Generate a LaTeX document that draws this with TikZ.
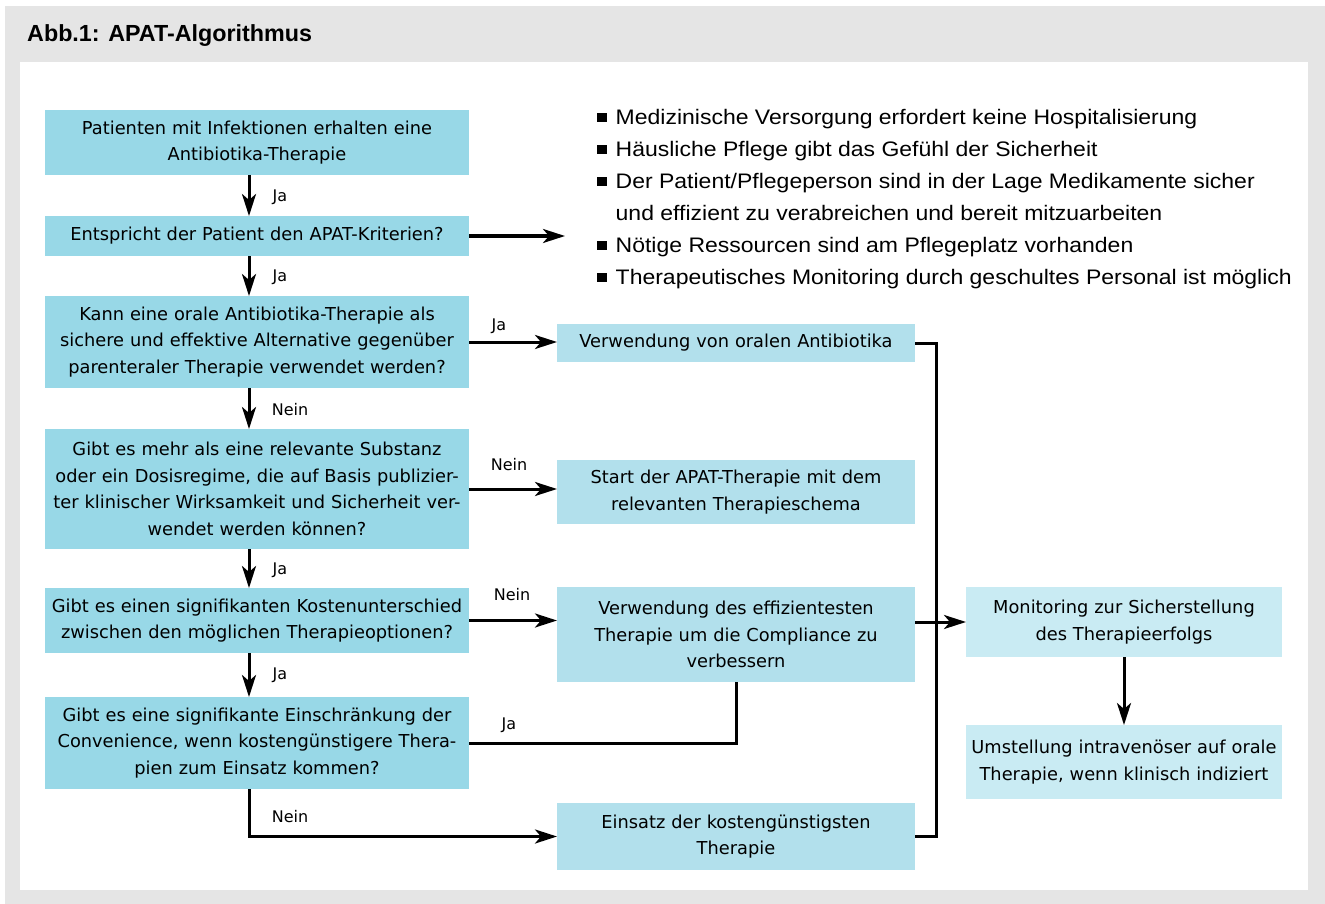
\documentclass[tikz,border=0pt]{standalone}
\usepackage{fontspec}
\setmainfont{DejaVu Sans}
\newfontfamily\listfont[FakeStretch=1.095]{Liberation Sans}
\newfontfamily\titlefont{Liberation Sans}
\usepackage{tikz}
\usetikzlibrary{calc}
\usetikzlibrary{positioning}
\usetikzlibrary{arrows.meta}
\definecolor{boxdark}{RGB}{152,216,231}
\definecolor{boxmid}{RGB}{178,224,236}
\definecolor{boxlight}{RGB}{201,235,243}
\definecolor{framegray}{RGB}{229,229,229}
\newcommand{\sqbul}{\raisebox{2.5pt}{\rule{9.5pt}{9.5pt}}\hspace{9pt}}

\begin{document}
\begin{tikzpicture}[x=1pt,y=1pt]

                \def\wl{424pt}
                \def\wm{358pt}
                \def\wr{316pt}

                % box styles for the three columns
                \tikzset{
                    panel/.style={align=center, inner xsep=0pt,
                        inner ysep=0pt, outer sep=0pt,
                        font=\fontsize{17.8}{26.7}\selectfont},
                    qbox/.style={panel, fill=boxdark, text width=\wl},
                    abox/.style={panel, fill=boxmid, text width=\wm},
                    mbox/.style={panel, fill=boxlight, text width=\wr},
                    lbl/.style={font=\fontsize{16}{18}\selectfont,
                        inner sep=0pt},
                    arr/.style={-{Stealth[length=22pt,width=14pt,inset=6pt]}}
                }

                % frame and title
                \useasboundingbox (0,0) rectangle (1325,-904);
                \fill[framegray] (5,-6) rectangle (1325,-904);
                \fill[white] (20,-62) rectangle (1308,-890);
                \node[anchor=base west, inner sep=0pt,
                    font=\titlefont\bfseries\fontsize{23.3}{26}\selectfont]
                    (titel) at (27,-41.7) {Abb.1: APAT-Algorithmus};

                % left column
                \node[qbox, minimum height=65pt] (start) at (257,-142.5)
                {Patienten mit Infektionen erhalten eine\\
                Antibiotika-Therapie};
                \node[qbox, minimum height=40pt, below=41pt of start]
                (krit) {Entspricht der Patient den APAT-Kriterien?};
                \node[qbox, minimum height=92pt, below=40pt of krit]
                (oral) {Kann eine orale Antibiotika-Therapie als\\
                sichere und effektive Alternative gegenüber\\
                parenteraler Therapie verwendet werden?};
                \node[qbox, minimum height=120pt, below=41pt of oral]
                (subst) {Gibt es mehr als eine relevante Substanz\\
                oder ein Dosisregime, die auf Basis publizier-\\
                ter klinischer Wirksamkeit und Sicherheit ver-\\
                wendet werden können?};
                \node[qbox, minimum height=65pt, below=39pt of subst]
                (kosten) {Gibt es einen signifikanten Kostenunterschied\\
                zwischen den möglichen Therapieoptionen?};
                \node[qbox, minimum height=92pt, below=44pt of kosten]
                (conv) {Gibt es eine signifikante Einschränkung der\\
                Convenience, wenn kostengünstigere Thera-\\
                pien zum Einsatz kommen?};

                % middle column
                \node[abox, minimum height=38pt] (oralab) at (736,-343)
                {Verwendung von oralen Antibiotika};
                \node[abox, minimum height=64pt] (schema) at (736,-492)
                {Start der APAT-Therapie mit dem\\
                relevanten Therapieschema};
                \node[abox, minimum height=95pt] (effiz) at (736,-634.5)
                {Verwendung des effizientesten\\
                Therapie um die Compliance zu\\
                verbessern};
                \node[abox, minimum height=67pt] (guenst) at (736,-836.5)
                {Einsatz der kostengünstigsten\\
                Therapie};

                % right column
                \node[mbox, minimum height=70pt] (monit) at (1124,-622)
                {Monitoring zur Sicherstellung\\
                des Therapieerfolgs};
                \node[mbox, minimum height=74pt, below=68pt of monit]
                (umst) {Umstellung intravenöser auf orale\\
                Therapie, wenn klinisch indiziert};

                % criteria list
                \node[anchor=north west, inner sep=0pt, align=left,
                    font=\listfont\fontsize{21}{32}\selectfont]
                    (liste) at (597,-109.5)
                {\sqbul Medizinische Versorgung erfordert keine Hospitalisierung\\
                \sqbul Häusliche Pflege gibt das Gefühl der Sicherheit\\
                \sqbul Der Patient/Pflegeperson sind in der Lage Medikamente sicher\\
                \hspace*{18.5pt}und effizient zu verabreichen und bereit mitzuarbeiten\\
                \sqbul Nötige Ressourcen sind am Pflegeplatz vorhanden\\
                \sqbul Therapeutisches Monitoring durch geschultes Personal ist möglich};

                \coordinate (kend) at (565,-236);
                \coordinate (rail) at (936,0);

                % labels
                \node[lbl] (ja1) at (280,-197) {Ja};
                \node[lbl] (ja2) at (280,-277) {Ja};
                \node[lbl] (nein1) at (290,-410) {Nein};
                \node[lbl] (ja3) at (280,-570) {Ja};
                \node[lbl] (ja4) at (280,-675) {Ja};
                \node[lbl] (nein2) at (290,-817) {Nein};
                \node[lbl] (ja5) at (499,-326) {Ja};
                \node[lbl] (nein3) at (509,-465) {Nein};
                \node[lbl] (nein4) at (512,-595) {Nein};
                \node[lbl] (ja6) at (509,-725) {Ja};

                \begin{scope}[line width=3pt]
                    \draw[arr] ([xshift=-8pt]start.south)
                        -- ([xshift=-8pt]krit.north);
                    \draw[arr] ([xshift=-8pt]krit.south)
                        -- ([xshift=-8pt]oral.north);
                    \draw[arr] ([xshift=-8pt]oral.south)
                        -- ([xshift=-8pt]subst.north);
                    \draw[arr] ([xshift=-8pt]subst.south)
                        -- ([xshift=-8pt]kosten.north);
                    \draw[arr] ([xshift=-8pt]kosten.south)
                        -- ([xshift=-8pt]conv.north);
                    \draw[arr] ([xshift=-8pt]conv.south)
                        |- (guenst.west);
                    \draw[arr] (krit.east) -- (kend);
                    \draw[arr] (oral.east) -- (oral.east -| oralab.west);
                    \draw[arr] (subst.east) -- (subst.east -| schema.west);
                    \draw[arr] (kosten.east) -- (kosten.east -| effiz.west);
                    \draw (conv.east) -| (effiz.south);
                    \draw (oralab.east) -- (oralab.east -| rail)
                        -- (guenst.east -| rail) -- (guenst.east);
                    \draw[arr] (effiz.east |- monit.west) -- (monit.west);
                    \draw[arr] (monit) -- (umst);
                \end{scope}

\end{tikzpicture}
\end{document}
